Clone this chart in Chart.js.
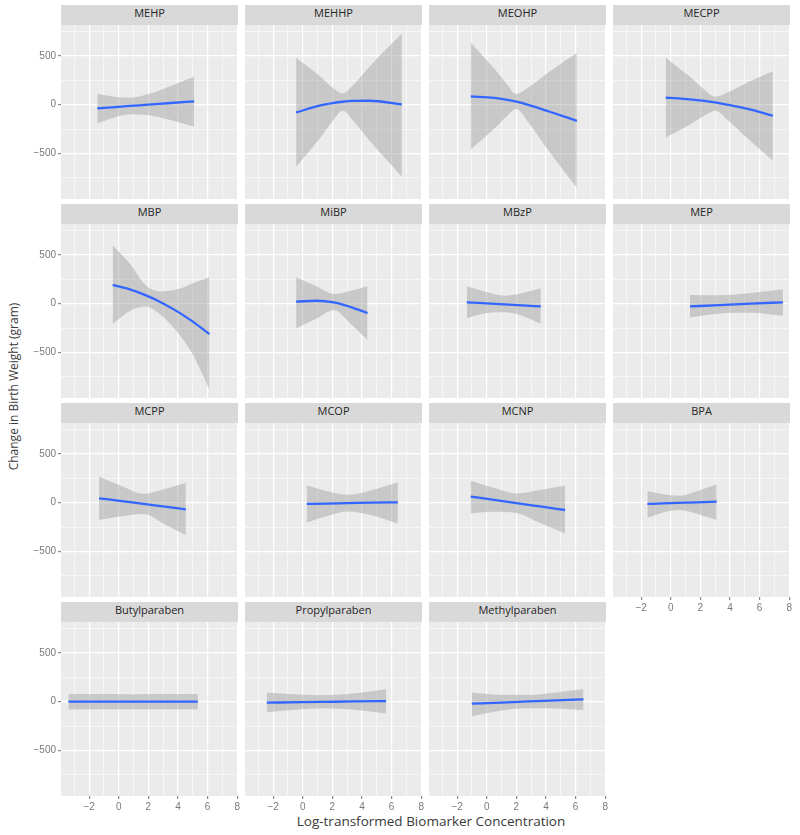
<!DOCTYPE html>
<html>
<head>
<meta charset="utf-8">
<script src="https://cdn.jsdelivr.net/npm/chart.js@4.4.1/dist/chart.umd.min.js"></script>
<style>
  html, body { margin: 0; padding: 0; background: #fff; }
  #page { position: relative; width: 800px; height: 835px; overflow: hidden; }
  #page canvas { position: absolute; }
  .strip {
    position: absolute; height: 20px; line-height: 20px;
    background: #d9d9d9; color: #262626; text-align: center;
    font: 400 11px "Open Sans", sans-serif;
  }
  .axis-title { position: absolute; white-space: nowrap; color: #3a3a3a; font-family: "Open Sans", sans-serif; text-align: center; }
</style>
</head>
<body>
<div id="page">
  <div class="axis-title" id="ytitle">Change in Birth Weight (gram)</div>
  <div class="axis-title" id="xtitle">Log-transformed Biomarker Concentration</div>
</div>
<script>
// axis limits and ticks (same for every facet)
const xMin = -3.9
const xMax = 8.05
const yMin = -965
const yMax = 815
const xMajor = [-2, 0, 2, 4, 6, 8]
const xMinor = [-3, -1, 1, 3, 5, 7]
const yMajor = [-500, 0, 500]
const yMinor = [-750, -250, 250, 750]

const facetNames = ['MEHP', 'MEHHP', 'MEOHP', 'MECPP', 'MBP', 'MiBP', 'MBzP', 'MEP',
  'MCPP', 'MCOP', 'MCNP', 'BPA', 'Butylparaben', 'Propylparaben', 'Methylparaben']

// fitted curve and confidence band
const mehpX = [-1.45, 0, 0.8, 2, 3.5, 5.09]
const mehpFit = [-38, -22, -13, 0, 17, 34]
const mehpLo = [-192, -119, -98, -108, -158, -227]
const mehpHi = [112, 76, 72, 108, 192, 288]

const mehhpX = [-0.45, 1.2, 2.0, 2.7, 3.4, 4.5, 6.69]
const mehhpFit = [-79, -8, 15, 30, 38, 40, 2]
const mehhpLo = [-635, -335, -170, -62, -165, -367, -738]
const mehhpHi = [480, 286, 175, 115, 200, 389, 728]

const meohpX = [-1.08, 0.5, 1.3, 2.0, 2.8, 4.2, 6.08]
const meohpFit = [85, 69, 52, 31, -2, -70, -165]
const meohpLo = [-456, -247, -125, -44, -180, -477, -852]
const meohpHi = [636, 369, 220, 110, 175, 334, 528]

const mecppX = [-0.34, 1.3, 2.3, 3.0, 3.9, 5.2, 6.89]
const mecppFit = [72, 54, 38, 24, -3, -43, -113]
const mecppLo = [-337, -202, -110, -62, -165, -349, -570]
const mecppHi = [481, 285, 150, 82, 130, 230, 343]

const mbpX = [-0.41, 0.8, 1.8, 2.8, 4, 5, 6.12]
const mbpFit = [193, 144, 88, 18, -84, -184, -312]
const mbpLo = [-209, -70, -30, -110, -300, -520, -879]
const mbpHi = [597, 400, 190, 125, 150, 210, 271]

const mibpX = [-0.45, 0.9, 2.1, 3.2, 4.37]
const mibpFit = [21, 30, 14, -32, -96]
const mibpLo = [-254, -154, -68, -200, -371]
const mibpHi = [271, 180, 100, 130, 178]

const mbzpX = [-1.35, 0, 1.2, 2.4, 3.65]
const mbzpFit = [14, 3, -7, -18, -28]
const mbzpLo = [-148, -95, -88, -125, -203]
const mbzpHi = [178, 120, 82, 110, 158]

const mepX = [1.3, 3.3, 5.4, 7.57]
const mepFit = [-28, -15, 0, 14]
const mepLo = [-141, -100, -92, -124]
const mepHi = [89, 86, 110, 148]

const mcppX = [-1.33, 0.2, 1.66, 3.1, 4.53]
const mcppFit = [45, 16, -13, -40, -68]
const mcppLo = [-178, -138, -116, -220, -333]
const mcppHi = [268, 170, 90, 140, 200]

const mcopX = [0.27, 1.6, 3.0, 4.7, 6.42]
const mcopFit = [-13, -9, -5, 0, 4]
const mcopLo = [-202, -138, -90, -130, -212]
const mcopHi = [175, 120, 80, 130, 210]

const mcnpX = [-1.08, 0.5, 2.0, 3.6, 5.29]
const mcnpFit = [62, 28, -5, -39, -75]
const mcnpLo = [-110, -94, -105, -208, -315]
const mcnpHi = [223, 150, 95, 130, 175]

const bpaX = [-1.58, -0.5, 0.5, 1.8, 3.1]
const bpaFit = [-13, -8, -3, 4, 10]
const bpaLo = [-155, -100, -75, -115, -178]
const bpaHi = [120, 85, 70, 120, 189]

const butylX = [-3.4, 1, 5.34]
const butylFit = [0, 0, 0]
const butylLo = [-80, -78, -78]
const butylHi = [78, 76, 78]

const propylX = [-2.43, 0, 1.5, 3.5, 5.63]
const propylFit = [-10, -5, -2, 2, 6]
const propylLo = [-107, -78, -68, -82, -120]
const propylHi = [93, 70, 65, 85, 127]

const methylX = [-1.01, 1, 2.8, 4.7, 6.53]
const methylFit = [-21, -9, 2, 13, 24]
const methylLo = [-148, -90, -68, -70, -86]
const methylHi = [93, 70, 70, 95, 127]

const facetData = [
  [mehpX, mehpFit, mehpLo, mehpHi],
  [mehhpX, mehhpFit, mehhpLo, mehhpHi],
  [meohpX, meohpFit, meohpLo, meohpHi],
  [mecppX, mecppFit, mecppLo, mecppHi],
  [mbpX, mbpFit, mbpLo, mbpHi],
  [mibpX, mibpFit, mibpLo, mibpHi],
  [mbzpX, mbzpFit, mbzpLo, mbzpHi],
  [mepX, mepFit, mepLo, mepHi],
  [mcppX, mcppFit, mcppLo, mcppHi],
  [mcopX, mcopFit, mcopLo, mcopHi],
  [mcnpX, mcnpFit, mcnpLo, mcnpHi],
  [bpaX, bpaFit, bpaLo, bpaHi],
  [butylX, butylFit, butylLo, butylHi],
  [propylX, propylFit, propylLo, propylHi],
  [methylX, methylFit, methylLo, methylHi]
]

// facet grid geometry
const colLeft = [61, 245, 429, 613]
const rowTop = [25, 224, 423, 622]
const panelW = 177
const panelH = 174
const stripH = 20

const page = document.getElementById('page')

const yt = document.getElementById('ytitle')
yt.style.cssText += 'font-size:12px;width:240px;left:' + (13 - 120) + 'px;top:' + (387 - 9) + 'px;transform:rotate(-90deg);'
const xt = document.getElementById('xtitle')
xt.style.cssText += 'font-size:13.5px;width:400px;left:' + (431 - 200) + 'px;top:' + (822 - 10) + 'px;'

const panelBg = {
  id: 'panelBg',
  beforeDraw (chart) {
    const a = chart.chartArea
    const ctx = chart.ctx
    ctx.save()
    ctx.fillStyle = '#ebebeb'
    ctx.fillRect(a.left, a.top, a.right - a.left, a.bottom - a.top)
    ctx.restore()
  }
}

const fmt = v => (v < 0 ? '\u2212' + Math.abs(v) : String(v))
const tickFont = { family: 'Liberation Sans', size: 10 }

function makeFacet (i) {
  const name = facetNames[i]
  const [xs, fit, lo, hi] = facetData[i]
  const col = i % 4
  const row = Math.floor(i / 4)
  const showY = col === 0
  const showX = row === 3 || name === 'BPA'
  const yAxisW = showY ? 36 : 0
  const xAxisH = showX ? 16 : 0
  const padR = showX ? 8 : 0

  const strip = document.createElement('div')
  strip.className = 'strip'
  strip.textContent = name
  strip.style.left = colLeft[col] + 'px'
  strip.style.top = (rowTop[row] - stripH) + 'px'
  strip.style.width = panelW + 'px'
  page.appendChild(strip)

  const canvas = document.createElement('canvas')
  canvas.width = panelW + yAxisW + padR
  canvas.height = panelH + xAxisH
  canvas.style.left = (colLeft[col] - yAxisW) + 'px'
  canvas.style.top = rowTop[row] + 'px'
  page.appendChild(canvas)

  const pts = arr => xs.map((x, k) => ({ x, y: arr[k] }))

  new Chart(canvas, {
    type: 'line',
    data: {
      datasets: [
        {
          data: pts(fit),
          borderColor: '#3366ff',
          borderWidth: 2.3,
          pointRadius: 0,
          cubicInterpolationMode: 'monotone',
          fill: false
        },
        {
          data: pts(hi),
          borderWidth: 0,
          pointRadius: 0,
          cubicInterpolationMode: 'monotone',
          backgroundColor: 'rgba(153,153,153,0.42)',
          fill: '+1'
        },
        {
          data: pts(lo),
          borderWidth: 0,
          pointRadius: 0,
          cubicInterpolationMode: 'monotone',
          fill: false
        }
      ]
    },
    options: {
      responsive: false,
      animation: false,
      devicePixelRatio: 1,
      events: [],
      layout: { padding: { top: 0, left: 0, bottom: 0, right: padR } },
      plugins: { legend: { display: false }, tooltip: { enabled: false } },
      scales: {
        x: {
          type: 'linear',
          min: xMin,
          max: xMax,
          afterBuildTicks: s => {
            s.ticks = xMinor.concat(xMajor).sort((a, b) => a - b).map(v => ({ value: v }))
          },
          afterFit: s => {
            s.height = xAxisH
            s.paddingLeft = 0
            s.paddingRight = 0
          },
          border: { display: false },
          grid: {
            color: '#ffffff',
            lineWidth: c => (xMajor.includes(c.tick.value) ? 1.2 : 0.55),
            drawTicks: showX,
            tickLength: 3,
            tickColor: c => (xMajor.includes(c.tick.value) ? '#8a8a8a' : 'rgba(0,0,0,0)')
          },
          ticks: {
            display: showX,
            autoSkip: false,
            maxRotation: 0,
            padding: 2,
            color: '#7a7a7a',
            font: tickFont,
            callback: v => (xMajor.includes(v) ? fmt(v) : '')
          }
        },
        y: {
          type: 'linear',
          min: yMin,
          max: yMax,
          afterBuildTicks: s => {
            s.ticks = yMinor.concat(yMajor).sort((a, b) => a - b).map(v => ({ value: v }))
          },
          afterFit: s => {
            s.width = yAxisW
            s.paddingTop = 0
            s.paddingBottom = 0
          },
          border: { display: false },
          grid: {
            color: '#ffffff',
            lineWidth: c => (yMajor.includes(c.tick.value) ? 1.2 : 0.55),
            drawTicks: showY,
            tickLength: 3,
            tickColor: c => (yMajor.includes(c.tick.value) ? '#8a8a8a' : 'rgba(0,0,0,0)')
          },
          ticks: {
            display: showY,
            autoSkip: false,
            padding: 2,
            color: '#7a7a7a',
            font: tickFont,
            callback: v => (yMajor.includes(v) ? fmt(v) : '')
          }
        }
      }
    },
    plugins: [panelBg]
  })
}

facetNames.forEach((n, i) => makeFacet(i))
</script>
</body>
</html>
